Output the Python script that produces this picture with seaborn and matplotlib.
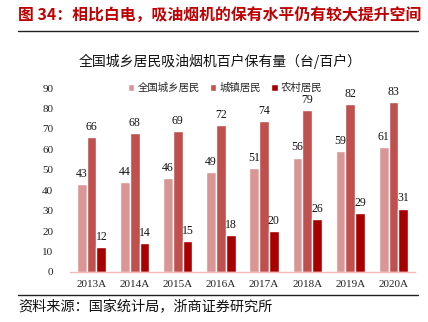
import matplotlib
matplotlib.use("Agg")
import matplotlib.pyplot as plt
import seaborn as sns
import pandas as pd
import numpy as np

years = ["2013A", "2014A", "2015A", "2016A", "2017A", "2018A", "2019A", "2020A"]
national = [43, 44, 46, 49, 51, 56, 59, 61]
urban = [66, 68, 69, 72, 74, 79, 82, 83]
rural = [12, 14, 15, 18, 20, 26, 29, 31]
series_names = ["全国城乡居民", "城镇居民", "农村居民"]
colors = ["#D99694", "#C0504D", "#A80000"]

df = pd.DataFrame({
    "year": years * 3,
    "value": national + urban + rural,
    "series": [series_names[0]] * 8 + [series_names[1]] * 8 + [series_names[2]] * 8,
})

sns.set_theme(style="white")
plt.rcParams['font.family'] = ['Noto Sans CJK SC', 'DejaVu Sans']
serif = ['Liberation Serif', 'DejaVu Serif']
cjk = ['Noto Sans CJK SC', 'DejaVu Sans']

fig = plt.figure(figsize=(4.28, 3.22), dpi=100)
ax = fig.add_axes([0.1636, 0.1553, 0.806, 0.5714])

sns.barplot(data=df, x="year", y="value", hue="series", palette=colors,
            width=0.68, ax=ax, saturation=1, gap=0)

for cont in ax.containers:
    ax.bar_label(cont, fmt="%d", padding=3, fontsize=8.5, fontfamily=serif, color="#111111")

ax.set_ylim(0, 90)
ax.set_yticks(range(0, 91, 10))
ax.set_xlim(-0.5, 7.5)
ax.set_xlabel("")
ax.set_ylabel("")
for lab in ax.get_yticklabels() + ax.get_xticklabels():
    lab.set_fontfamily(serif)
    lab.set_fontsize(8)
    lab.set_color("#222222")
ax.tick_params(axis="y", length=0, pad=12)
ax.tick_params(axis="x", length=0, pad=6)
ax.set_xticks(np.arange(-0.5, 8, 1), minor=True)
ax.tick_params(axis="x", which="minor", length=3, color="#F2B8B8", direction="out")
for s in ["top", "right", "left"]:
    ax.spines[s].set_visible(False)
ax.spines["bottom"].set_color("#F2B8B8")
ax.spines["bottom"].set_linewidth(1)

leg = ax.legend(loc="center", bbox_to_anchor=(0.45, 1.0), ncol=3, frameon=False,
                prop={'family': cjk, 'size': 7.5}, handlelength=0.6, handleheight=0.6,
                handletextpad=0.3, columnspacing=1.0)

fig.text(0.042, 0.952, "图 34：相比白电，吸油烟机的保有水平仍有较大提升空间",
         fontsize=11.4, fontweight="bold", color="#C00000", va="center", ha="left",
         family=cjk)
fig.add_artist(plt.Line2D([0.042, 0.977], [0.905, 0.905], color="#222222", lw=1,
                          transform=fig.transFigure))
fig.text(0.515, 0.808, "全国城乡居民吸油烟机百户保有量（台/百户）", fontsize=10,
         color="#111111", ha="center", va="center", family=cjk)
fig.add_artist(plt.Line2D([0.042, 0.977], [0.083, 0.083], color="#222222", lw=1,
                          transform=fig.transFigure))
fig.text(0.042, 0.045, "资料来源：国家统计局，浙商证券研究所", fontsize=10.2,
         color="#111111", ha="left", va="center", family=cjk)

fig.savefig("out.png", dpi=100)
